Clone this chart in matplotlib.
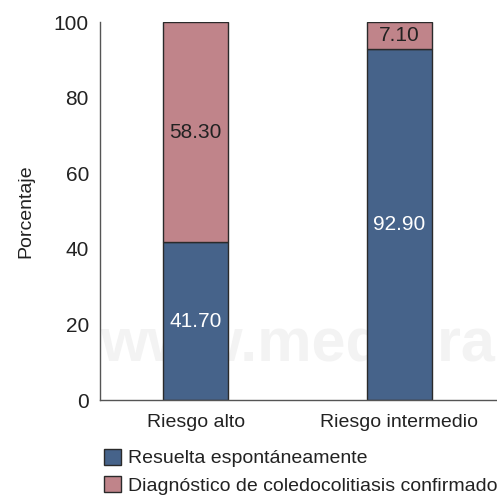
import matplotlib.pyplot as plt
import numpy as np

categories = ['Riesgo alto', 'Riesgo intermedio']
resuelta = [41.70, 92.90]
confirmado = [58.30, 7.10]
series_names = ['Resuelta espontáneamente', 'Diagnóstico de coledocolitiasis confirmado']
yticks = [0, 20, 40, 60, 80, 100]

blue = '#46638a'
pink = '#c0848a'

plt.rcParams['font.family'] = ['Liberation Sans', 'DejaVu Sans']

fig = plt.figure(figsize=(4.97, 4.99), dpi=100)
ax = fig.add_axes([100/497, 1-400/499, 397/497, 378/499])

x = np.arange(len(categories))
w = 0.32
b1 = ax.bar(x, resuelta, w, color=blue, edgecolor='#2a2a2a', linewidth=1, zorder=2)
b2 = ax.bar(x, confirmado, w, bottom=resuelta, color=pink, edgecolor='#2a2a2a', linewidth=1, zorder=2)

for i in range(len(categories)):
    ax.text(x[i], resuelta[i] / 2, f'{resuelta[i]:.2f}', ha='center', va='center',
            color='white', fontsize=15, zorder=3)
    ax.text(x[i], resuelta[i] + confirmado[i] / 2, f'{confirmado[i]:.2f}',
            ha='center', va='center', color='#222222', fontsize=15, zorder=3)

# marca de agua
ax.text(100/497, 1-346/499, 'www.medigraphic.org.mx', transform=fig.transFigure,
        fontsize=44, fontweight='bold', color='#f3f3f3', ha='left', va='center', zorder=1)

ax.set_xlim(-0.47, 1.48)
ax.set_ylim(0, 100)
ax.set_yticks(yticks)
ax.set_xticks(x)
ax.set_xticklabels(categories)
ax.tick_params(length=0, labelsize=15, colors='#222222', pad=8)
ax.tick_params(axis='x', labelsize=14, pad=10)
for s in ['top', 'right']:
    ax.spines[s].set_visible(False)
for s in ['left', 'bottom']:
    ax.spines[s].set_color('#555555')
    ax.spines[s].set_linewidth(1)
ax.set_ylabel('Porcentaje', fontsize=14, color='#222222', labelpad=14)

leg = fig.legend([b1, b2], series_names, loc='upper left', bbox_to_anchor=(104/497, 1-449/499),
                 frameon=False, fontsize=14, handlelength=0.85, handleheight=0.85,
                 handletextpad=0.4, labelspacing=0.45, borderaxespad=0, borderpad=0)
for t in leg.get_texts():
    t.set_color('#222222')

fig.savefig('out.png', dpi=100)
